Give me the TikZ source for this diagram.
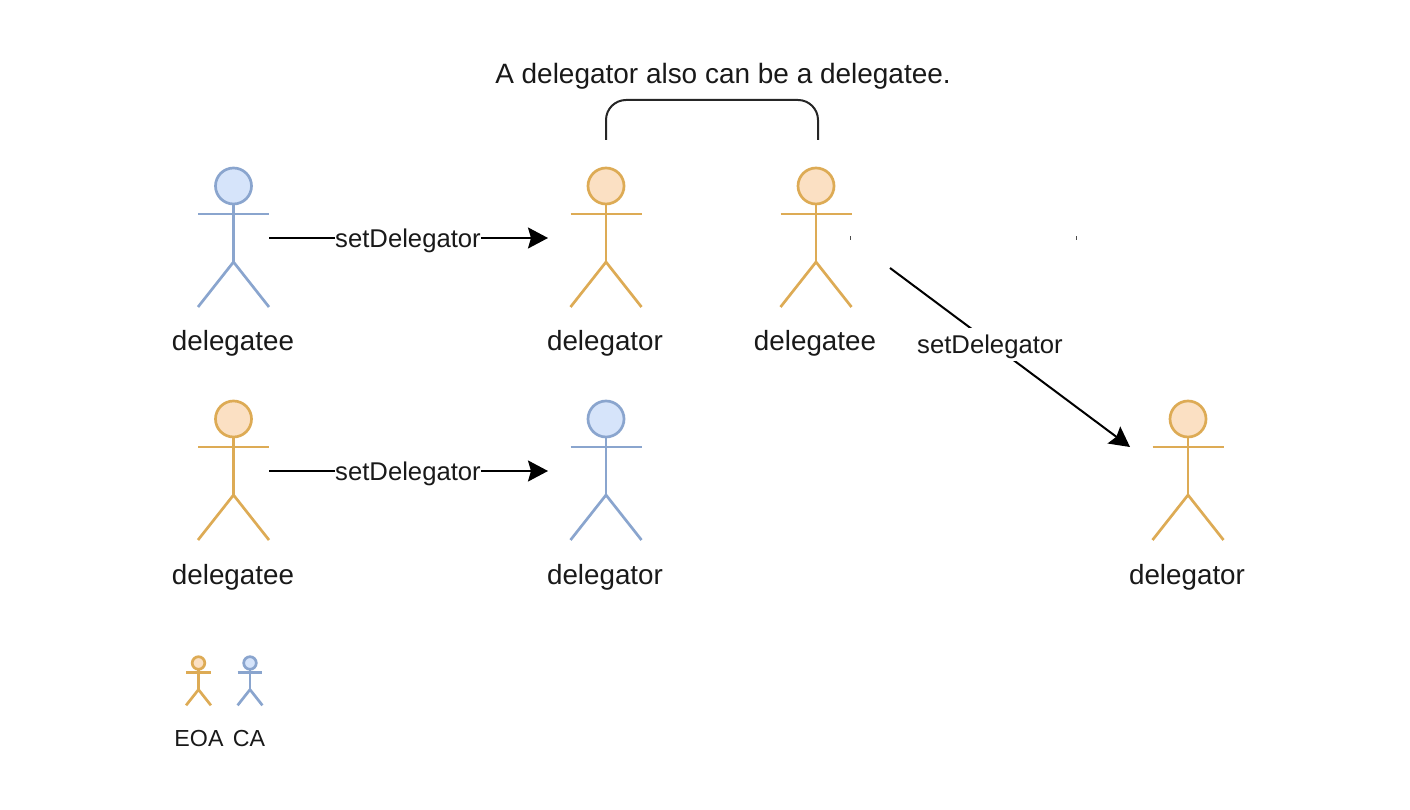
\documentclass[tikz,border=0pt]{standalone}
\usepackage{fontspec}
\setmainfont{Liberation Sans}
\usetikzlibrary{arrows.meta}
\definecolor{eoaline}{HTML}{DDAB55}
\definecolor{eoafill}{HTML}{FBE0C3}
\definecolor{caline}{HTML}{8AA5CE}
\definecolor{cafill}{HTML}{D6E4FA}
\tikzset{
  eoa/.style={draw=eoaline,line width=0.027cm},
  ca/.style={draw=caline,line width=0.027cm},
  eoahead/.style={eoa,fill=eoafill},
  cahead/.style={ca,fill=cafill},
  actorlabel/.style={anchor=base,font=\fontsize{7.9pt}{9pt}\selectfont,inner sep=0pt,text=black!90},
  keylabel/.style={anchor=base,font=\fontsize{6.6pt}{8pt}\selectfont,inner sep=0pt,text=black!90},
  calllabel/.style={anchor=base,font=\fontsize{7.3pt}{9pt}\selectfont,inner xsep=0pt,inner ysep=1pt,text height=6.4pt,text depth=1pt,fill=white,text=black!90},
  callarrow/.style={-{Stealth[length=0.2cm,width=0.21cm,inset=0.03cm]},line width=0.02cm,black}
}
% #1 position, #2 scale, #3 line style
\newcommand{\actorfig}[3]{
  \begin{scope}[shift={#1},scale=#2]
    \draw[#3head] (0,0) circle (0.18cm);
    \draw[#3] (0,18) -- (0,76);
    \draw[#3] (-35.5,28) -- (35.5,28);
    \draw[#3] (-35.5,121) -- (0,76) -- (35.5,121);
  \end{scope}
}
\begin{document}
\begin{tikzpicture}[x=0.01cm,y=-0.01cm]
\useasboundingbox (0,0) rectangle (1410,810);
% top row
\actorfig{(233.5,186)}{1}{ca}
\actorfig{(606,186)}{1}{eoa}
\actorfig{(816,186)}{1}{eoa}
\node[actorlabel] (labelA) at (233,351) {delegatee};
\node[actorlabel] (labelB) at (605,351) {delegator};
\node[actorlabel] (labelC) at (815,351) {delegatee};
% second row
\actorfig{(233.5,419)}{1}{eoa}
\actorfig{(606,419)}{1}{ca}
\actorfig{(1188,419)}{1}{eoa}
\node[actorlabel] (labelD) at (233,584) {delegatee};
\node[actorlabel] (labelE) at (605,584) {delegator};
\node[actorlabel] (labelF) at (1187,584) {delegator};
% legend
\actorfig{(198.5,663)}{0.35}{eoa}
\actorfig{(250,663)}{0.35}{ca}
\node[keylabel] (keyEoa) at (199,746) {EOA};
\node[keylabel] (keyCa) at (249,746) {CA};
% arrows
\coordinate (startA) at (269,238);
\coordinate (endA) at (548,238);
\coordinate (startB) at (269,471);
\coordinate (endB) at (548,471);
\coordinate (startC) at (890,268);
\coordinate (endC) at (1130,447);
\draw[callarrow] (startA) -- (endA);
\draw[callarrow] (startB) -- (endB);
\draw[callarrow] (startC) -- (endC);
\node[calllabel] (callA) at (408,248) {setDelegator};
\node[calllabel] (callB) at (408,481) {setDelegator};
\node[calllabel] (callC) at (990,354) {setDelegator};
% bracket
\coordinate (bracketL) at (606,140);
\coordinate (bracketR) at (818,140);
\draw[line width=0.02cm,black!85,rounded corners=0.2cm] (bracketL) -- (606,100) -- (818,100) -- (bracketR);
\node[anchor=base,font=\fontsize{7.95pt}{10pt}\selectfont,inner sep=0pt,text=black!90] (note) at (723,84) {A delegator also can be a delegatee.};
% specks
\fill[black!70] (849.5,236.5) rectangle (850.5,240);
\fill[black!70] (1076,236.5) rectangle (1077,240);
\end{tikzpicture}
\end{document}
